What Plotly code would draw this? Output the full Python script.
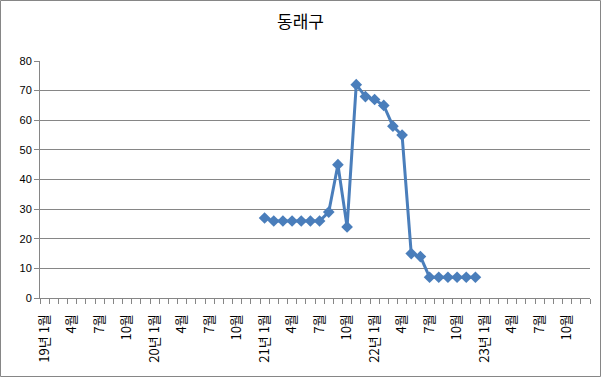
import plotly.graph_objects as go

# Categories: monthly from 19년 1월 to 23년 12월
years = [19, 20, 21, 22, 23]
months = list(range(1, 13))
categories = [f"{y}년 {m}월" for y in years for m in months]

# Series values (start at 21년 1월, end at 22년 12월)
series_start = "21년 1월"
values = [27, 26, 26, 26, 26, 26, 26, 29, 45, 24, 72, 68,
          67, 65, 58, 55, 15, 14, 7, 7, 7, 7, 7, 7]

y_ticks = [0, 10, 20, 30, 40, 50, 60, 70, 80]

start_idx = categories.index(series_start)
x_idx = list(range(start_idx, start_idx + len(values)))

label_idx = [i for i in range(len(categories)) if i % 3 == 0]
label_text = [categories[i] if categories[i].endswith(" 1월") else categories[i].split(" ")[1]
              for i in label_idx]

fig = go.Figure()
fig.add_trace(go.Scatter(
    x=x_idx, y=values, mode="lines+markers",
    line=dict(color="#4a7ebb", width=3),
    marker=dict(symbol="diamond", size=9, color="#4a7ebb"),
    hovertext=[categories[i] for i in x_idx],
))

L, R, T, B = 40, 11, 61, 79
W, H = 601, 377
pw, ph = W - L - R, H - T - B

fig.update_layout(
    width=W, height=H,
    margin=dict(l=L, r=R, t=T, b=B, autoexpand=False),
    paper_bgcolor="white", plot_bgcolor="white",
    showlegend=False,
    font=dict(family="Noto Sans CJK KR, Liberation Sans, Arial", color="#000000", size=11),
    title=dict(text="동래구", x=0.5, xanchor="center", y=1 - 22 / H, yanchor="middle",
               font=dict(size=17, family="Noto Sans CJK KR")),
    xaxis=dict(
        range=[-0.5, len(categories) - 0.5], automargin=False,
        tickmode="array", tickvals=label_idx, ticktext=label_text,
        tickangle=-90, ticks="", showgrid=False, zeroline=False,
        showline=True, linecolor="#868686", linewidth=1,
        ticklabelstandoff=10,
        tickfont=dict(size=13, family="Noto Sans CJK KR"),
        minor=dict(ticks="outside", tickmode="linear", tick0=-0.5, dtick=1,
                   ticklen=5, tickcolor="#868686", showgrid=False),
    ),
    yaxis=dict(
        range=[0, 80], tickvals=y_ticks, ticks="outside", ticklen=5, automargin=False,
        tickcolor="#868686", showgrid=True, gridcolor="#868686", gridwidth=1,
        zeroline=False, showline=True, linecolor="#868686", linewidth=1,
        tickfont=dict(size=11, family="Liberation Sans, Arial"),
    ),
    shapes=[dict(
        type="rect", xref="paper", yref="paper",
        x0=(0.5 - L) / pw, x1=(W - 0.5 - L) / pw,
        y0=(T + ph - (H - 0.5)) / ph, y1=(T + ph - 0.5) / ph,
        line=dict(color="#868686", width=1), fillcolor="rgba(0,0,0,0)", layer="above",
    )],
)

fig.write_html(
    "out.html",
    config={"displayModeBar": False},
    post_script="document.body.style.margin='0';document.body.style.overflow='hidden';",
)
